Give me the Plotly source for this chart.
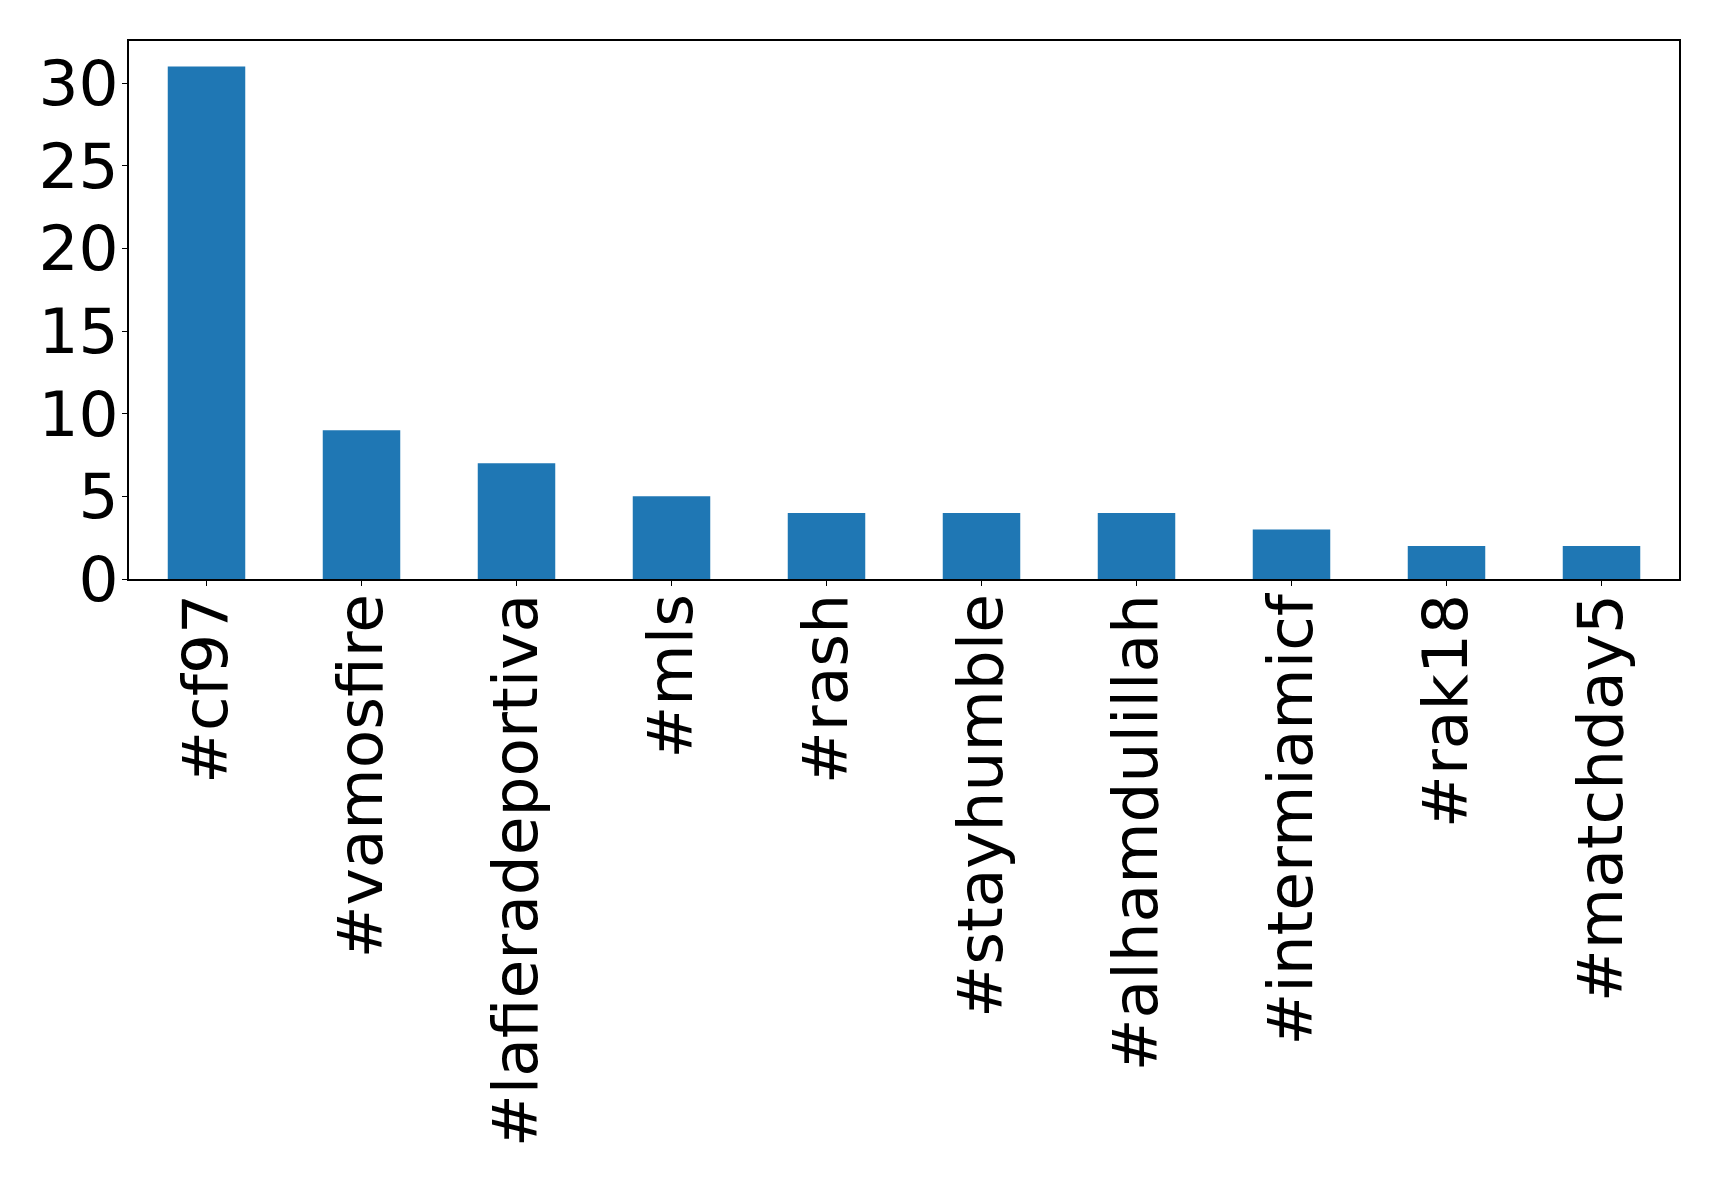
import plotly.graph_objects as go

hashtags = ["#cf97", "#vamosfire", "#lafieradeportiva", "#mls", "#rash",
            "#stayhumble", "#alhamdulillah", "#intermiamicf", "#rak18", "#matchday5"]
counts = [31, 9, 7, 5, 4, 4, 4, 3, 2, 2]
y_ticks = [0, 5, 10, 15, 20, 25, 30]

fig = go.Figure(go.Bar(
    x=list(range(len(hashtags))), y=counts, width=0.5,
    marker=dict(color="#1f77b4", line=dict(width=0)),
))

font = dict(family="DejaVu Sans", size=63, color="black")
fig.update_layout(
    width=1711, height=1169,
    margin=dict(l=121, r=40, t=33, b=598),
    paper_bgcolor="white", plot_bgcolor="white",
    showlegend=False, font=font,
)
fig.update_xaxes(
    range=[-0.5, len(hashtags) - 0.5],
    tickmode="array", tickvals=list(range(len(hashtags))), ticktext=hashtags,
    tickangle=-90, ticks="outside", ticklen=5, tickwidth=1.2, tickcolor="black",
    ticklabelstandoff=-17,
    showline=True, linecolor="black", linewidth=1.5, mirror=True,
    showgrid=False, zeroline=False, tickfont=font,
)
fig.update_yaxes(
    range=[0, max(counts) * 1.05],
    tickmode="array", tickvals=y_ticks,
    ticks="outside", ticklen=5, tickwidth=1.2, tickcolor="black",
    ticklabelstandoff=-9,
    showline=True, linecolor="black", linewidth=1.5, mirror=True,
    showgrid=False, zeroline=False, tickfont=font,
)
fig.write_html("out.html")
